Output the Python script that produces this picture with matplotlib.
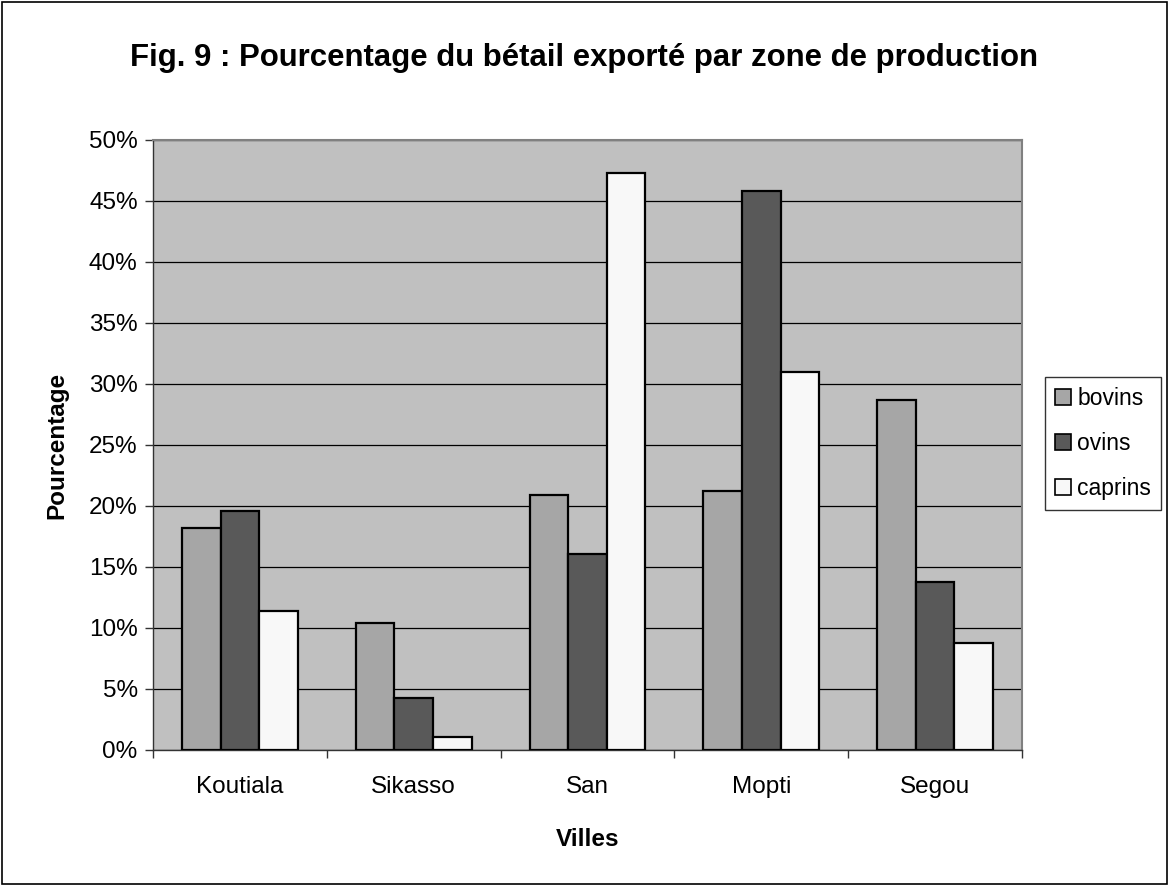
import matplotlib.pyplot as plt
import numpy as np
from matplotlib.patches import Rectangle
from matplotlib.ticker import FuncFormatter

plt.rcParams['font.family'] = ['Liberation Sans', 'DejaVu Sans']

villes = ["Koutiala", "Sikasso", "San", "Mopti", "Segou"]
bovins = [18.2, 10.4, 20.9, 21.2, 28.7]
ovins = [19.6, 4.3, 16.1, 45.8, 13.8]
caprins = [11.4, 1.1, 47.3, 31.0, 8.8]

series = [("bovins", bovins, "#a6a6a6"),
          ("ovins", ovins, "#595959"),
          ("caprins", caprins, "#f8f8f8")]

fig = plt.figure(figsize=(11.69, 8.86), dpi=100)
ax = fig.add_axes([0.1309, 0.1535, 0.7434, 0.6885])
ax.set_facecolor("#c0c0c0")

x = np.arange(len(villes))
w = 1 / 4.5
for i, (nom, vals, col) in enumerate(series):
    ax.bar(x + (i - 1) * w, vals, width=w, color=col, edgecolor="black",
           linewidth=1.6, label=nom, zorder=3)

ax.set_xlim(-0.5, len(villes) - 0.5)
ax.set_ylim(0, 50)
ax.set_yticks(np.arange(0, 51, 5))
ax.yaxis.set_major_formatter(FuncFormatter(lambda v, p: f"{v:.0f}%"))
ax.yaxis.grid(True, color="black", linewidth=0.9, zorder=1)
ax.set_axisbelow(True)

ax.set_xticks(x)
ax.set_xticklabels(villes)
ax.set_xticks(np.arange(-0.5, len(villes)), minor=True)
ax.tick_params(axis="x", which="major", length=0, labelsize=17.5, pad=19)
ax.tick_params(axis="x", which="minor", length=6, width=1, color="#333333")
ax.tick_params(axis="y", length=6, width=1, labelsize=17.5, pad=5, color="#333333")

for s in ["top", "right"]:
    ax.spines[s].set_color("#808080")
    ax.spines[s].set_linewidth(1.5)
for s in ["left", "bottom"]:
    ax.spines[s].set_color("#333333")
    ax.spines[s].set_linewidth(1)

ax.set_xlabel("Villes", fontsize=17.5, fontweight="bold", labelpad=21)
ax.set_ylabel("Pourcentage", fontsize=17.5, fontweight="bold", labelpad=15)

fig.suptitle("Fig. 9 : Pourcentage du bétail exporté par zone de production",
             x=0.5, y=0.952, fontsize=22.4, fontweight="bold")

leg = fig.legend(loc="upper left", bbox_to_anchor=(0.894, 0.5745),
                 fontsize=16.5, frameon=True, fancybox=False, handlelength=0.7,
                 handleheight=0.7, handletextpad=0.25, labelspacing=0.95,
                 borderpad=0.45, borderaxespad=0)
leg.get_frame().set_edgecolor("black")
leg.get_frame().set_linewidth(1)
for h in leg.legend_handles:
    h.set_linewidth(1.2)

fig.patches.append(Rectangle((0.002, 0.002), 0.996, 0.996, transform=fig.transFigure,
                             fill=False, edgecolor="black", linewidth=1.2))

fig.savefig("out.png", dpi=100)
